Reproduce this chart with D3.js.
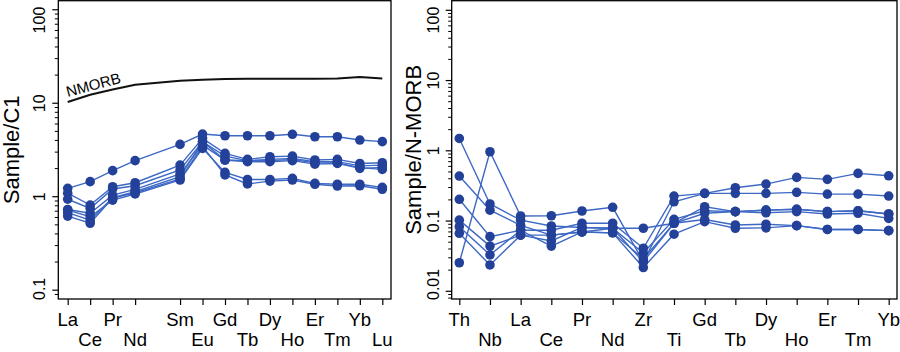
<!DOCTYPE html>
<html>
<head>
<meta charset="utf-8">
<script src="https://cdn.jsdelivr.net/npm/d3@7"></script>
<style>
    body { margin: 0; background: #fff; }
    svg { font-family: "Liberation Sans", Arial, sans-serif; display: block; }
</style>
</head>
<body>
<div id="root"></div>
<script>
// chondrite-normalised REE (Pm has no data, keeps its slot on the axis)
const reeCats = ["La", "Ce", "Pr", "Nd", "Pm", "Sm", "Eu", "Gd", "Tb", "Dy", "Ho", "Er", "Tm", "Yb", "Lu"];
const reeLabels = reeCats.filter(c => c !== "Pm");
const nmorbC1 = [10.3, 12.3, 14.0, 15.8, 17.4, 17.8, 18.2, 18.3, 18.3, 18.3, 18.3, 18.4, 19.1, 18.4];
const reeSamples = [
    [1.23, 1.45, 1.90, 2.43, 3.63, 4.68, 4.49, 4.49, 4.49, 4.65, 4.38, 4.38, 4.04, 3.88],
    [1.09, 0.815, 1.28, 1.41, 2.18, 4.21, 2.91, 2.51, 2.68, 2.72, 2.47, 2.51, 2.27, 2.31],
    [0.94, 0.75, 1.21, 1.31, 1.93, 3.87, 2.72, 2.43, 2.51, 2.57, 2.37, 2.37, 2.14, 2.18],
    [0.73, 0.665, 1.04, 1.20, 1.75, 3.57, 2.47, 2.37, 2.37, 2.43, 2.23, 2.27, 2.01, 2.06],
    [0.675, 0.56, 0.975, 1.13, 1.64, 3.87, 2.47, 2.43, 2.43, 2.50, 2.30, 2.30, 2.05, 1.96],
    [0.72, 0.61, 0.92, 1.07, 1.51, 3.29, 1.82, 1.53, 1.53, 1.57, 1.39, 1.36, 1.36, 1.26],
    [0.62, 0.52, 0.97, 1.10, 1.55, 3.45, 1.71, 1.37, 1.47, 1.51, 1.36, 1.30, 1.31, 1.20]
];

// N-MORB normalised spider diagram
const spiderCats = ["Th", "Nb", "La", "Ce", "Pr", "Nd", "Zr", "Ti", "Gd", "Tb", "Dy", "Ho", "Er", "Tm", "Yb"];
const spiderSamples = [
    [1.50, 0.175, 0.103, 0.085, 0.081, 0.079, 0.035, 0.106, 0.140, 0.136, 0.143, 0.147, 0.136, 0.140, 0.126],
    [0.437, 0.143, 0.087, 0.063, 0.070, 0.068, 0.029, 0.093, 0.129, 0.136, 0.131, 0.136, 0.126, 0.129, 0.109],
    [0.204, 0.060, 0.074, 0.074, 0.093, 0.093, 0.041, 0.227, 0.248, 0.298, 0.336, 0.418, 0.392, 0.477, 0.441],
    [0.0255, 0.97, 0.118, 0.119, 0.139, 0.157, 0.0263, 0.188, 0.248, 0.248, 0.248, 0.256, 0.242, 0.242, 0.227],
    [0.103, 0.044, 0.063, 0.052, 0.081, 0.079, 0.079, 0.093, 0.160, 0.136, 0.143, 0.147, 0.136, 0.140, 0.126],
    [0.083, 0.033, 0.074, 0.044, 0.070, 0.068, 0.0218, 0.065, 0.098, 0.079, 0.080, 0.086, 0.076, 0.076, 0.073],
    [0.067, 0.0237, 0.063, 0.063, 0.070, 0.079, 0.0263, 0.093, 0.105, 0.088, 0.090, 0.086, 0.076, 0.076, 0.073]
];

const leftTicks = [0.1, 1, 10, 100];
const rightTicks = [0.01, 0.1, 1, 10, 100];

const W = 900, H = 352;
const lineColor = "#3d68c4";
const dotColor = "#24419a";

const svg = d3.select("#root").append("svg")
    .attr("width", W)
    .attr("height", H);

class SpiderPlot {
    constructor(svg, con) {
        this.svg = svg;
        this.con = con;
        this.g = svg.append("g");
        this.x = d3.scalePoint()
            .domain(con.cats)
            .range(con.xRange);
        this.y = d3.scaleLog()
            .domain(con.yDomain)
            .range([con.bottom, con.top]);
        this.drawAxes();
        if (con.reference) this.drawReference();
        this.drawSamples();
        this.drawBox();
    }

    drawAxes() {
        const { g, x, y, con } = this;

        // major + minor log ticks on the left
        const [lo, hi] = y.domain();
        const minor = [];
        for (let e = Math.floor(Math.log10(lo)); e <= Math.ceil(Math.log10(hi)); e++) {
            for (let k = 2; k <= 9; k++) {
                const v = k * Math.pow(10, e);
                if (v >= lo && v <= hi) minor.push(v);
            }
        }
        g.selectAll(".minor")
            .data(minor)
            .enter()
            .append("line")
            .attr("x1", con.left - 3.5)
            .attr("x2", con.left)
            .attr("y1", d => y(d))
            .attr("y2", d => y(d))
            .attr("stroke", "#000")
            .attr("stroke-width", 1);

        g.selectAll(".major")
            .data(con.yTicks)
            .enter()
            .append("line")
            .attr("x1", con.left - 6)
            .attr("x2", con.left)
            .attr("y1", d => y(d))
            .attr("y2", d => y(d))
            .attr("stroke", "#000")
            .attr("stroke-width", 1.2);

        // labels are nudged inside the plot height, as R does
        g.selectAll(".ylab")
            .data(con.yTicks)
            .enter()
            .append("text")
            .attr("transform", function (d) {
                return `translate(${con.left - 13}, ${y(d)}) rotate(-90)`;
            })
            .attr("text-anchor", "middle")
            .style("font-size", "16px")
            .text(d => d)
            .each(function (d) {
                const half = this.getComputedTextLength() / 2;
                const cy = Math.max(con.top + 6 + half, Math.min(con.bottom + 1 - half, y(d)));
                d3.select(this).attr("transform", `translate(${con.left - 13}, ${cy}) rotate(-90)`);
            });

        g.append("text")
            .attr("transform", `translate(${con.titleX}, ${(con.top + con.bottom) / 2}) rotate(-90)`)
            .attr("text-anchor", "middle")
            .style("font-size", "22px")
            .text(con.title);

        // category axis, labels staggered on two rows
        const labels = con.labels;
        g.append("g")
            .attr("transform", `translate(0, ${con.bottom})`)
            .call(d3.axisBottom(x).tickValues(labels).tickSize(6).tickFormat(""))
            .call(a => a.select(".domain").remove())
            .selectAll(".tick line")
            .attr("stroke-width", 1.2);

        g.selectAll(".xlab")
            .data(labels)
            .enter()
            .append("text")
            .attr("x", d => x(d))
            .attr("y", (d, i) => i % 2 === 0 ? 326 : 346)
            .attr("text-anchor", "middle")
            .style("font-size", "18.5px")
            .text(d => d);
    }

    drawReference() {
        const { g, x, y, con } = this;
        const pts = con.labels.map((c, i) => ({ c, v: con.reference[i] }));
        g.append("path")
            .datum(pts)
            .attr("fill", "none")
            .attr("stroke", "#111")
            .attr("stroke-width", 2)
            .attr("d", d3.line().x(d => x(d.c)).y(d => y(d.v)));

        const p0 = pts[0];
        g.append("text")
            .attr("transform", `translate(${x(p0.c)}, ${y(p0.v) - 5}) rotate(-15)`)
            .style("font-size", "15px")
            .text(con.refName);
    }

    drawSamples() {
        const { g, x, y, con } = this;
        const line = d3.line().x(d => x(d.c)).y(d => y(d.v));
        const series = con.samples.map(s => con.labels.map((c, i) => ({ c, v: s[i] })));

        g.selectAll(".sample")
            .data(series)
            .enter()
            .append("path")
            .attr("fill", "none")
            .attr("stroke", lineColor)
            .attr("stroke-width", 1.4)
            .attr("d", line);

        series.forEach(s => {
            g.selectAll(null)
                .data(s)
                .enter()
                .append("circle")
                .attr("cx", d => x(d.c))
                .attr("cy", d => y(d.v))
                .attr("r", 4.8)
                .attr("fill", dotColor);
        });
    }

    drawBox() {
        const { g, con } = this;
        g.append("rect")
            .attr("x", con.left)
            .attr("y", con.top)
            .attr("width", con.right - con.left)
            .attr("height", con.bottom - con.top)
            .attr("fill", "none")
            .attr("stroke", "#000")
            .attr("stroke-width", 1.3);
    }
}

new SpiderPlot(svg, {
    cats: reeCats,
    labels: reeLabels,
    samples: reeSamples,
    reference: nmorbC1,
    refName: "NMORB",
    xRange: [67.7, 382.3],
    yDomain: [0.0805, 125],
    yTicks: leftTicks,
    left: 58.3, right: 391, top: 0.7, bottom: 299,
    title: "Sample/C1",
    titleX: 19
});

new SpiderPlot(svg, {
    cats: spiderCats,
    labels: spiderCats,
    samples: spiderSamples,
    xRange: [459.3, 888.7],
    yDomain: [0.00777, 137],
    yTicks: rightTicks,
    left: 451.7, right: 897, top: 0.7, bottom: 299,
    title: "Sample/N-MORB",
    titleX: 421
});
</script>
</body>
</html>
